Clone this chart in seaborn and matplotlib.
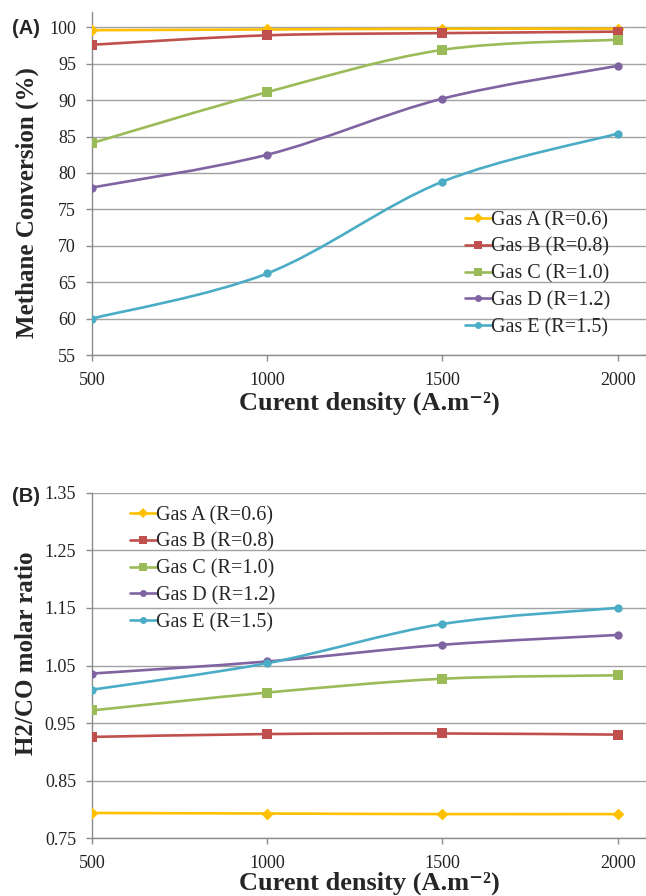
import numpy as np
import pandas as pd
import seaborn as sns
import matplotlib
matplotlib.use("Agg")
import matplotlib.pyplot as plt
from matplotlib.path import Path
from matplotlib.patches import PathPatch
from matplotlib.lines import Line2D

# ---- data ----
current_density = [500, 1000, 1500, 2000]
gas_labels = ["Gas A (R=0.6)", "Gas B (R=0.8)", "Gas C (R=1.0)",
              "Gas D (R=1.2)", "Gas E (R=1.5)"]

conv_gas_a = [99.6, 99.7, 99.8, 99.8]
conv_gas_b = [97.6, 98.9, 99.2, 99.4]
conv_gas_c = [84.1, 91.1, 96.9, 98.3]
conv_gas_d = [78.0, 82.5, 90.2, 94.7]
conv_gas_e = [60.0, 66.2, 78.8, 85.4]

ratio_gas_a = [0.794, 0.793, 0.792, 0.792]
ratio_gas_b = [0.926, 0.931, 0.932, 0.930]
ratio_gas_c = [0.972, 1.003, 1.027, 1.033]
ratio_gas_d = [1.036, 1.057, 1.086, 1.103]
ratio_gas_e = [1.008, 1.054, 1.122, 1.150]

conv_ticks = [55, 60, 65, 70, 75, 80, 85, 90, 95, 100]
ratio_ticks = [0.75, 0.85, 0.95, 1.05, 1.15, 1.25, 1.35]

colors = ["#FFC000", "#C0504D", "#9BBB59", "#8064A2", "#4BACC6"]
markers = ["D", "s", "s", "o", "o"]
marker_sizes = [6, 6.5, 6.5, 6, 6]

sns.set_theme(style="white")
SERIF = ["Liberation Serif", "DejaVu Serif"]
plt.rcParams["font.family"] = SERIF

GRID = "#A3A3A3"
AXIS = "#8C8C8C"
W, H = 646, 896


def smooth_path(xs, ys):
    """Cubic Bezier path through the points (Catmull-Rom style tangents)."""
    pts = np.column_stack([xs, ys]).astype(float)
    n = len(pts)
    verts = [pts[0]]
    codes = [Path.MOVETO]
    for i in range(n - 1):
        p0 = pts[i - 1] if i > 0 else pts[i]
        p1 = pts[i]
        p2 = pts[i + 1]
        p3 = pts[i + 2] if i + 2 < n else pts[i + 1]
        c1 = p1 + (p2 - p0) / 6.0
        c2 = p2 - (p3 - p1) / 6.0
        verts += [c1, c2, p2]
        codes += [Path.CURVE4] * 3
    return Path(verts, codes)


def draw_panel(ax, series, ylim, yticks, fmt, xlabelpad):
    df = pd.DataFrame({
        "density": np.tile(current_density, len(series)),
        "value": np.concatenate(series),
        "gas": np.repeat(gas_labels, len(current_density)),
    })
    for (label, vals), c, m, ms in zip(zip(gas_labels, series), colors, markers, marker_sizes):
        patch = PathPatch(smooth_path(current_density, vals), facecolor="none",
                          edgecolor=c, lw=1.9, zorder=3)
        ax.add_patch(patch)
        sub = df[df["gas"] == label]
        sns.scatterplot(data=sub, x="density", y="value", color=c, marker=m,
                        s=ms ** 2, edgecolor=c, linewidth=0, ax=ax, zorder=4,
                        legend=False)
    ax.set_xlim(500, 2081)
    ax.set_ylim(*ylim)
    ax.set_xticks(current_density)
    ax.set_xticklabels([str(v) for v in current_density])
    ax.set_yticks(yticks)
    ax.set_yticklabels([fmt(v) for v in yticks])
    ax.grid(axis="y", color=GRID, lw=1.0)
    ax.grid(axis="x", visible=False)
    for s in ["top", "right"]:
        ax.spines[s].set_visible(False)
    for s in ["left", "bottom"]:
        ax.spines[s].set_color(AXIS)
        ax.spines[s].set_linewidth(1.0)
    ax.tick_params(axis="both", which="major", length=4, width=1.0,
                   color=AXIS, direction="out", labelsize=13,
                   labelcolor="#222222", left=True, bottom=True)
    ax.tick_params(axis="x", pad=8)
    ax.tick_params(axis="y", pad=7.5)
    ax.set_xlabel("Curent density (A.m\u207b\u00b2)", fontsize=19,
                  fontweight="bold", labelpad=xlabelpad, family=SERIF)
    ax.set_ylabel("")
    ax.set_axisbelow(True)


def add_legend(ax, x_px, y_px):
    handles = [Line2D([0], [0], color=c, lw=1.9, marker=m, markersize=ms - 1,
                      markeredgewidth=0)
               for c, m, ms in zip(colors, markers, marker_sizes)]
    ax.legend(handles, gas_labels, loc="upper left",
              bbox_to_anchor=(x_px / W, 1 - y_px / H),
              bbox_transform=ax.figure.transFigure, frameon=False,
              fontsize=14.5, handlelength=1.3, handletextpad=0.0,
              labelspacing=0.37, borderaxespad=0, borderpad=0)


fig = plt.figure(figsize=(W / 100, H / 100), dpi=100)

ax_a = fig.add_axes([92 / W, 1 - 355 / H, 1 - 92 / W, 343 / H])
draw_panel(ax_a, [conv_gas_a, conv_gas_b, conv_gas_c, conv_gas_d, conv_gas_e],
           (55, 102.1), conv_ticks, lambda v: f"{v:d}", 2)
add_legend(ax_a, 465, 211)

ax_b = fig.add_axes([92 / W, 1 - 838.3 / H, 1 - 92 / W, 345.6 / H])
draw_panel(ax_b, [ratio_gas_a, ratio_gas_b, ratio_gas_c, ratio_gas_d, ratio_gas_e],
           (0.75, 1.35), ratio_ticks, lambda v: f"{v:.2f}", 0)
add_legend(ax_b, 130, 506)

# y-axis titles
fig.text(27 / W, 1 - 203 / H, "Methane Conversion (%)", rotation=90,
         fontsize=18, fontweight="bold", ha="center", va="center")
fig.text(27 / W, 1 - 653 / H, "H2/CO molar ratio", rotation=90,
         fontsize=18, fontweight="bold", ha="center", va="center")

fig.text(12 / W, 1 - 28 / H, "(A)", fontsize=14.5, fontweight="bold",
         family=["Liberation Sans", "DejaVu Sans"], va="center", ha="left")
fig.text(12 / W, 1 - 496 / H, "(B)", fontsize=14.5, fontweight="bold",
         family=["Liberation Sans", "DejaVu Sans"], va="center", ha="left")

fig.savefig("out.png", dpi=100, facecolor="white")
